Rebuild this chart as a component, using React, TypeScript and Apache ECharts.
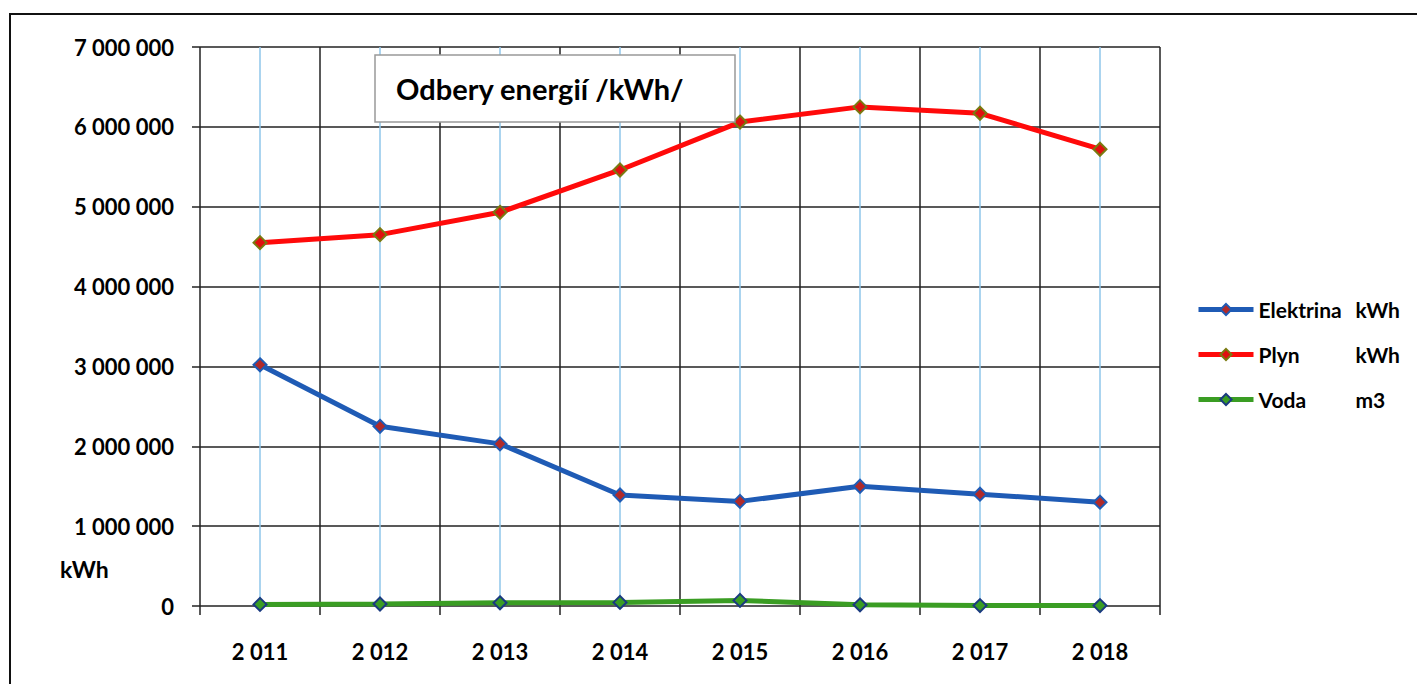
import React, { useEffect, useRef } from "react";
import * as echarts from "echarts";

const years = ["2011", "2012", "2013", "2014", "2015", "2016", "2017", "2018"];
const elektrina = [3020000, 2250000, 2030000, 1390000, 1310000, 1500000, 1400000, 1300000];
const plyn = [4550000, 4650000, 4930000, 5460000, 6060000, 6250000, 6170000, 5720000];
const voda = [20000, 25000, 40000, 45000, 70000, 15000, 5000, 5000];
const yTicks = { min: 0, max: 7000000, interval: 1000000 };
const titleText = "Odbery energií /kWh/";
const unitText = "kWh";

const FONT = "Lato";
const fmt = (v: number | string) => String(v).replace(/\B(?=(\d{3})+(?!\d))/g, " ");

export default function App() {
  const ref = useRef<HTMLDivElement>(null);
  useEffect(() => {
    document.body.style.margin = "0";
    const chart = echarts.init(ref.current!, null, { renderer: "svg" });
    const lineSeries = (name: string, data: number[], color: string, mFill: string, mBorder: string, z: number) => ({
      name,
      type: "line",
      data,
      z,
      symbol: "diamond",
      symbolSize: 13,
      lineStyle: { color, width: 5 },
      itemStyle: { color: mFill, borderColor: mBorder, borderWidth: 2 },
      emphasis: { disabled: true },
    });
    chart.setOption({
      animation: false,
      backgroundColor: "#ffffff",
      grid: { left: 200, top: 47, width: 960, height: 559 },
      xAxis: [
        {
          type: "category",
          data: years,
          boundaryGap: true,
          axisLine: { show: false },
          axisTick: { show: true, inside: false, length: 9, lineStyle: { color: "#222", width: 1.5 } },
          splitLine: { show: true, lineStyle: { color: "#222", width: 1.5 } },
          axisLabel: {
            formatter: (v: string) => fmt(v),
            fontFamily: FONT,
            fontWeight: "bold",
            fontSize: 22,
            color: "#000",
            margin: 34,
          },
        },
        {
          type: "value",
          min: 0,
          max: 8,
          interval: 0.5,
          show: true,
          position: "top",
          axisLine: { show: false },
          axisTick: { show: false },
          axisLabel: { show: false },
          splitLine: { show: true, lineStyle: { color: ["rgba(0,0,0,0)", "#8fc6ea"], width: 1.5 } },
        },
      ],
      yAxis: {
        type: "value",
        min: yTicks.min,
        max: yTicks.max,
        interval: yTicks.interval,
        axisLine: { show: false },
        axisTick: { show: true, length: 8, lineStyle: { color: "#222", width: 1.5 } },
        splitLine: { show: true, lineStyle: { color: "#222", width: 1.5 } },
        axisLabel: {
          formatter: (v: number) => fmt(v),
          fontFamily: FONT,
          fontWeight: "bold",
          fontSize: 22,
          color: "#000",
          margin: 26,
        },
      },
      legend: {
        orient: "vertical",
        left: 1196,
        top: 299,
        padding: 0,
        itemWidth: 55,
        itemHeight: 14,
        itemGap: 24,
        lineStyle: { width: 5 },
        data: ["Elektrina kWh", "Plyn kWh", "Voda m3"],
        formatter: (name: string) => {
          const i = name.indexOf(" ");
          return `{a|${name.slice(0, i)}}{b|${name.slice(i + 1)}}`;
        },
        textStyle: {
          fontFamily: FONT,
          fontWeight: "bold",
          fontSize: 21,
          color: "#000",
          rich: {
            a: { width: 97, lineHeight: 22, fontFamily: FONT, fontWeight: "bold", fontSize: 21, color: "#000" },
            b: { lineHeight: 22, fontFamily: FONT, fontWeight: "bold", fontSize: 21, color: "#000" },
          },
        },
      },
      graphic: [
        {
          type: "rect",
          shape: { x: 10, y: 14, width: 1420, height: 700 },
          style: { fill: "none", stroke: "#111", lineWidth: 2 },
          silent: true,
        },
        {
          type: "rect",
          shape: { x: 375, y: 55, width: 360, height: 67 },
          style: { fill: "#fff", stroke: "#999", lineWidth: 1.5 },
          z: 100,
          silent: true,
        },
        {
          type: "text",
          x: 396,
          y: 88,
          z: 101,
          style: {
            text: titleText,
            fontFamily: FONT,
            fontWeight: "bold",
            fontSize: 29,
            fill: "#000",
            verticalAlign: "middle",
          },
        },
        {
          type: "text",
          x: 60,
          y: 569,
          style: {
            text: unitText,
            fontFamily: FONT,
            fontWeight: "bold",
            fontSize: 23,
            fill: "#000",
            verticalAlign: "middle",
          },
        },
      ],
      series: [
        lineSeries("Elektrina kWh", elektrina, "#1f5bb5", "#b02a2a", "#1f5bb5", 3),
        lineSeries("Plyn kWh", plyn, "#ff0a0a", "#e01010", "#7a7a10", 4),
        lineSeries("Voda m3", voda, "#3a9d23", "#3a9d23", "#1a3a80", 5),
      ],
    });
    return () => chart.dispose();
  }, []);
  return <div ref={ref} style={{ width: 1417, height: 684 }} />;
}
